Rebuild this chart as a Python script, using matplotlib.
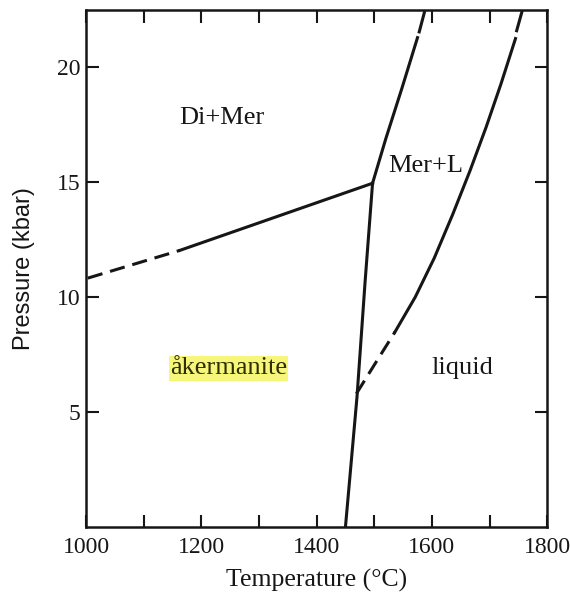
import matplotlib
matplotlib.use("Agg")
import matplotlib.pyplot as plt

# phase boundaries (T in degC, P in kbar)
# akermanite / Di+Mer
ak_dimer_dash_T = [1003, 1163]
ak_dimer_dash_P = [10.83, 12.04]
ak_dimer_T = [1163, 1497]
ak_dimer_P = [12.04, 14.96]

# Di+Mer / Mer+L
dimer_merl_T = [1497, 1520, 1548, 1575]
dimer_merl_P = [14.96, 16.9, 19.1, 21.3]
dimer_merl_dash_T = [1578, 1588]
dimer_merl_dash_P = [21.55, 22.5]

# akermanite melting curve
melt_T = [1450, 1470, 1484, 1497]
melt_P = [0.0, 5.65, 10.65, 14.96]

# Mer+L / liquid
liq_dash_lo_T = [1469, 1500, 1536]
liq_dash_lo_P = [5.8, 7.05, 8.49]
liq_T = [1536, 1571, 1604, 1636, 1666, 1694, 1720, 1745]
liq_P = [8.49, 10.0, 11.7, 13.6, 15.5, 17.4, 19.3, 21.26]
liq_dash_hi_T = [1747, 1757]
liq_dash_hi_P = [21.6, 22.5]

x_ticks = [1000, 1200, 1400, 1600, 1800]
y_ticks = [5, 10, 15, 20]

plt.rcParams["font.family"] = ["Liberation Serif", "DejaVu Serif"]
ink = "#161616"

fig = plt.figure(figsize=(5.70, 5.92), dpi=100)
ax = fig.add_axes([0.151, 0.110, 0.809, 0.873])

lw = 2.2
dash = (0, (5, 2.6))
ax.plot(ak_dimer_dash_T, ak_dimer_dash_P, color=ink, lw=lw, ls=dash)
ax.plot(ak_dimer_T, ak_dimer_P, color=ink, lw=lw)
ax.plot(dimer_merl_T, dimer_merl_P, color=ink, lw=lw)
ax.plot(dimer_merl_dash_T, dimer_merl_dash_P, color=ink, lw=lw)
ax.plot(melt_T, melt_P, color=ink, lw=lw)
ax.plot(liq_dash_lo_T, liq_dash_lo_P, color=ink, lw=lw, ls=dash)
ax.plot(liq_T, liq_P, color=ink, lw=lw)
ax.plot(liq_dash_hi_T, liq_dash_hi_P, color=ink, lw=lw)

lab = 19
ax.text(1236, 17.8, "Di+Mer", fontsize=lab, color=ink, ha="center", va="center")
ax.text(1589, 15.7, "Mer+L", fontsize=lab, color=ink, ha="center", va="center")
ax.text(1653, 6.9, "liquid", fontsize=lab, color=ink, ha="center", va="center")
ax.text(1247, 6.9, "åkermanite", fontsize=lab, color="#2e2e00", ha="center",
        va="center",
        bbox=dict(boxstyle="square,pad=0.05", fc="#f6f67a", ec="none"))

ax.set_xlim(1000, 1800)
ax.set_ylim(0, 22.5)
ax.set_xticks(x_ticks)
ax.set_xticks(range(1100, 1800, 200), minor=True)
ax.set_yticks(y_ticks)
ax.tick_params(which="both", direction="in", top=True, right=True,
               length=9, width=1.5, labelsize=17, colors=ink)
ax.tick_params(axis="x", pad=7)
ax.tick_params(axis="y", pad=4, labelright=False)
for s in ax.spines.values():
    s.set_linewidth(1.8)
    s.set_color(ink)

ax.set_xlabel("Temperature (°C)", fontsize=18.5, color=ink, labelpad=8)
ax.set_ylabel("Pressure (kbar)", fontsize=17, color=ink, labelpad=16,
              family=["Liberation Sans", "DejaVu Sans"])

fig.savefig("out.png", dpi=100)
